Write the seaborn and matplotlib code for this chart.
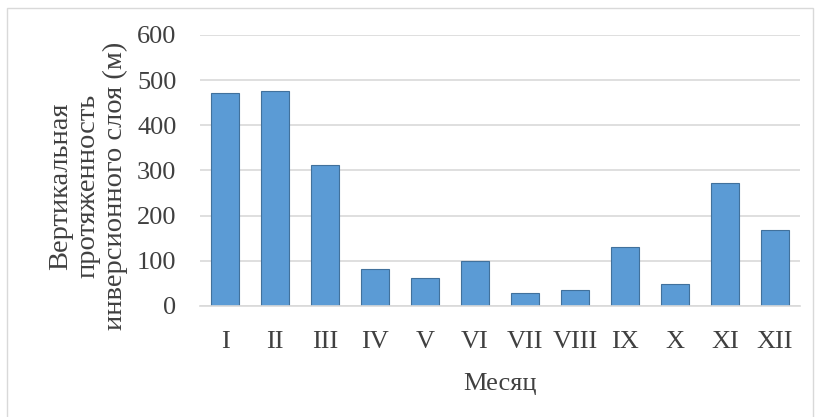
import matplotlib
matplotlib.use("Agg")
import matplotlib.pyplot as plt
import seaborn as sns
from matplotlib.patches import Rectangle

# Данные
months = ["I", "II", "III", "IV", "V", "VI", "VII", "VIII", "IX", "X", "XI", "XII"]
thickness = [471, 477, 313, 83, 63, 100, 28, 35, 131, 49, 273, 169]

sns.set_style("white")
plt.rcParams["font.family"] = ["Liberation Serif", "DejaVu Serif"]

text_color = "#404040"

fig = plt.figure(figsize=(8.15, 4.17), dpi=100)
ax = fig.add_axes([200 / 815, 1 - 306 / 417, 600 / 815, 271 / 417])

sns.barplot(
    x=months,
    y=thickness,
    color="#5B9BD5",
    edgecolor="#41719C",
    linewidth=0.8,
    width=0.56,
    saturation=1,
    ax=ax
)

ax.set_ylim(0, 600)
ax.set_xlim(-0.5, 11.5)
ax.set_yticks(range(0, 601, 100))
ax.yaxis.grid(True, color="#D9D9D9", linewidth=1.2)
ax.set_axisbelow(True)
for side in ["top", "right", "left"]:
    ax.spines[side].set_visible(False)
ax.spines["bottom"].set_color("#D9D9D9")
ax.spines["bottom"].set_linewidth(1.2)
ax.tick_params(axis="both", length=0, labelsize=19, colors=text_color)
ax.tick_params(axis="y", pad=17)
ax.tick_params(axis="x", pad=18)
ax.set_xlabel("")
ax.set_ylabel("")

fig.text(
    500 / 815, 1 - 384 / 417, "Месяц",
    ha="center", va="center", fontsize=19, color=text_color
)

fig.text(
    88 / 815, 1 - 186 / 417,
    "Вертикальная\nпротяженность\nинверсионного слоя (м)",
    rotation=90, ha="center", va="center", multialignment="center",
    fontsize=20.5, color=text_color, linespacing=1.13
)

# Рамка вокруг диаграммы
fig.patches.append(Rectangle(
    (7 / 815, -10 / 417), 806 / 815, 419 / 417,
    transform=fig.transFigure, fill=False,
    edgecolor="#D9D9D9", linewidth=1
))

fig.savefig("out.png", dpi=100)
